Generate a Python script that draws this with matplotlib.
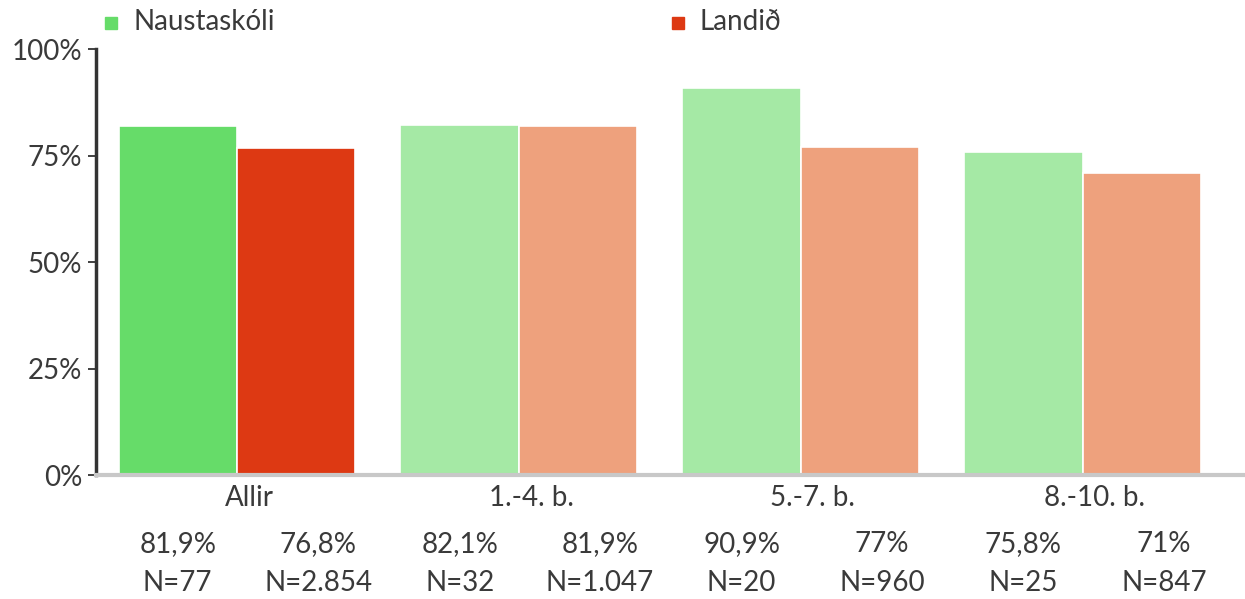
import numpy as np
import matplotlib.pyplot as plt

# gögn
hopar = ['Allir', '1.-4. b.', '5.-7. b.', '8.-10. b.']
naust = [81.9, 82.1, 90.9, 75.8]
landid = [76.8, 81.9, 77.0, 71.0]
naust_txt = ['81,9%', '82,1%', '90,9%', '75,8%']
landid_txt = ['76,8%', '81,9%', '77%', '71%']
naust_n = ['N=77', 'N=32', 'N=20', 'N=25']
landid_n = ['N=2.854', 'N=1.047', 'N=960', 'N=847']

green = ['#66dc69', '#a5e9a5', '#a5e9a5', '#a5e9a5']
red = ['#dd3913', '#eea17d', '#eea17d', '#eea17d']
txt = '#3a3a3a'

plt.rcParams['font.family'] = ['Lato', 'DejaVu Sans']
fs = 20

fig = plt.figure(figsize=(12.45, 5.99), dpi=100)
ax = fig.add_axes([0.0771, 0.207, 0.9229, 0.711])

x = np.arange(len(hopar))
w = 0.42
ax.bar(x - w / 2, naust, w, color=green, edgecolor='white', linewidth=1.2)
ax.bar(x + w / 2, landid, w, color=red, edgecolor='white', linewidth=1.2)

ax.set_xlim(-0.5, 3.576)
ax.set_ylim(0, 100)
ax.set_yticks([0, 25, 50, 75, 100])
ax.set_yticklabels(['0%', '25%', '50%', '75%', '100%'])
ax.tick_params(axis='y', labelsize=fs, colors='#333333', labelcolor=txt, length=6, width=1.3, pad=4)
ax.set_xticks([])

for s in ['top', 'right']:
    ax.spines[s].set_visible(False)
ax.spines['left'].set_color('#333333')
ax.spines['left'].set_linewidth(2.5)
ax.spines['bottom'].set_color('#c8c8c8')
ax.spines['bottom'].set_linewidth(3)

trans = ax.get_xaxis_transform()
for i in range(len(hopar)):
    ax.text(x[i] + 0.043, -0.055, hopar[i], transform=trans, ha='center', va='center',
            fontsize=fs, color=txt)
    ax.text(x[i] - w / 2, -0.162, naust_txt[i], transform=trans, ha='center', va='center',
            fontsize=fs, color=txt)
    ax.text(x[i] + w / 2 + 0.078, -0.162, landid_txt[i], transform=trans, ha='center', va='center',
            fontsize=fs, color=txt)
    ax.text(x[i] - w / 2, -0.253, naust_n[i], transform=trans, ha='center', va='center',
            fontsize=fs, color=txt)
    ax.text(x[i] + w / 2 + 0.078, -0.253, landid_n[i], transform=trans, ha='center', va='center',
            fontsize=fs, color=txt)

# legend
fig.patches.append(plt.Rectangle((105 / 1245, 1 - 29 / 599), 12 / 1245, 12 / 599,
                                 transform=fig.transFigure, color='#66dc69'))
fig.text(133 / 1245, 1 - 22 / 599, 'Naustaskóli', ha='left', va='center', fontsize=fs, color=txt)
fig.patches.append(plt.Rectangle((672 / 1245, 1 - 29 / 599), 12 / 1245, 12 / 599,
                                 transform=fig.transFigure, color='#dd3913'))
fig.text(700 / 1245, 1 - 22 / 599, 'Landið', ha='left', va='center', fontsize=fs, color=txt)

plt.savefig('out.png', dpi=100)
